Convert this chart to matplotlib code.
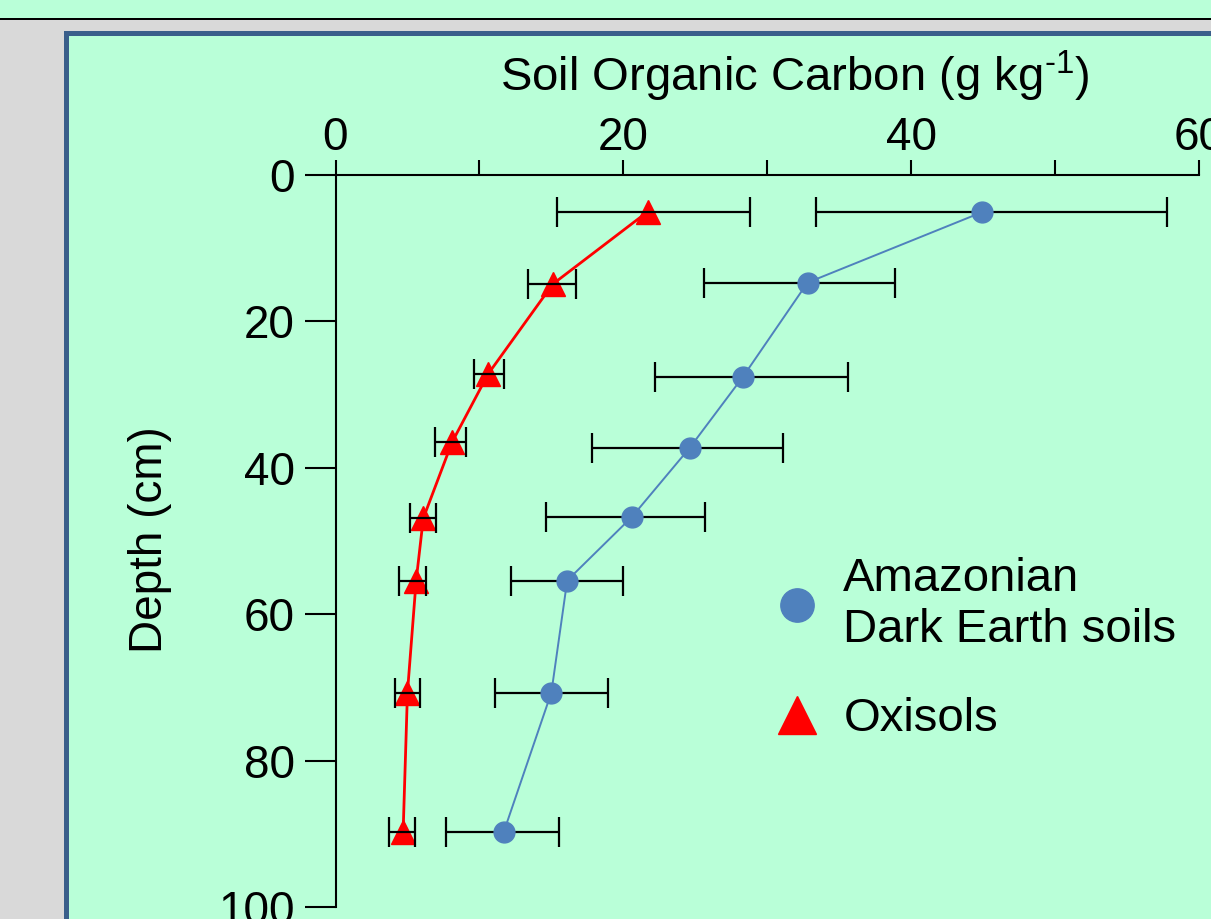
import matplotlib
matplotlib.use("Agg")
import numpy as np
import matplotlib.pyplot as plt
from matplotlib.patches import Rectangle
from matplotlib.lines import Line2D

plt.rcParams['font.family'] = ['Liberation Sans', 'DejaVu Sans']
plt.rcParams['mathtext.fontset'] = 'custom'
plt.rcParams['mathtext.rm'] = 'Liberation Sans'

# Amazonian Dark Earth soils: depth (cm), mean SOC and error-bar bounds (g/kg)
ade_depth = [5.1, 14.7, 27.6, 37.3, 46.7, 55.4, 70.7, 89.7]
ade_soc = [44.9, 32.8, 28.3, 24.6, 20.6, 16.1, 15.0, 11.7]
ade_lo = [33.4, 25.6, 22.2, 17.8, 14.6, 12.2, 11.1, 7.7]
ade_hi = [57.8, 38.9, 35.6, 31.1, 25.7, 20.0, 18.9, 15.5]

# Oxisols
oxi_depth = [5.0, 14.9, 27.2, 36.5, 46.9, 55.5, 70.7, 89.7]
oxi_soc = [21.7, 15.1, 10.6, 8.1, 6.1, 5.6, 5.0, 4.7]
oxi_lo = [15.4, 13.4, 9.6, 6.9, 5.2, 4.4, 4.1, 3.7]
oxi_hi = [28.8, 16.7, 11.7, 9.1, 7.0, 6.3, 5.9, 5.5]

x_ticks = [0, 20, 40, 60]
x_minor = [10, 30, 50]
y_ticks = [0, 20, 40, 60, 80, 100]

W, H = 1211, 919
green = '#B9FFD8'
blue = '#4F81BD'

fig = plt.figure(figsize=(W / 100, H / 100), dpi=100)
fig.patch.set_facecolor('#D9D9D9')

# slide background pieces
fig.patches.append(Rectangle((0, 1 - 18 / H), 1, 18 / H, transform=fig.transFigure,
                             facecolor=green, edgecolor='none', zorder=-10))
fig.patches.append(Rectangle((0, 1 - 20 / H), 1, 2 / H, transform=fig.transFigure,
                             facecolor='black', edgecolor='none', zorder=-10))
fig.patches.append(Rectangle((65.5 / W, -0.1), 2, (H - 33.5) / H + 0.1, transform=fig.transFigure,
                             facecolor=green, edgecolor='#3A5F8B', linewidth=3.6, zorder=-10))

ax = fig.add_axes([335.5 / W, 1 - 907 / H, (1199 - 335.5) / W, (907 - 175) / H])
ax.patch.set_alpha(0)

ade_soc = np.array(ade_soc)
oxi_soc = np.array(oxi_soc)
ade_err = [ade_soc - np.array(ade_lo), np.array(ade_hi) - ade_soc]
oxi_err = [oxi_soc - np.array(oxi_lo), np.array(oxi_hi) - oxi_soc]

ax.errorbar(ade_soc, ade_depth, xerr=ade_err, fmt='none', ecolor='black',
            elinewidth=1.6, capsize=11, capthick=1.6, zorder=2)
ax.plot(ade_soc, ade_depth, color=blue, lw=1.4, marker='o', ms=15, zorder=3)
ax.plot(oxi_soc, oxi_depth, color='red', lw=2.0, marker='^', ms=17, zorder=4)
ax.errorbar(oxi_soc, oxi_depth, xerr=oxi_err, fmt='none', ecolor='black',
            elinewidth=1.6, capsize=11, capthick=1.6, zorder=5)

ax.set_xlim(0, 60)
ax.set_ylim(100, 0)
ax.set_xticks(x_ticks)
ax.set_xticks(x_minor, minor=True)
ax.set_yticks(y_ticks)
ax.xaxis.tick_top()
ax.spines['right'].set_visible(False)
ax.spines['bottom'].set_visible(False)
ax.spines['left'].set_linewidth(1.5)
ax.spines['top'].set_linewidth(1.5)
ax.tick_params(axis='x', which='both', top=True, bottom=False, labeltop=True, labelbottom=False,
               length=10.8, width=1.5, labelsize=33, pad=0)
ax.tick_params(axis='y', length=22.3, width=1.5, labelsize=33, pad=7)

fig.text(500 / W, 1 - 91 / H, r"Soil Organic Carbon (g kg$^{\text{-1}}$)",
         ha='left', va='baseline', fontsize=34)
fig.text(150 / W, 1 - 540 / H, "Depth (cm)", rotation=90, ha='center', va='center', fontsize=33)

handles = [Line2D([], [], ls='none', marker='o', color=blue, ms=24),
           Line2D([], [], ls='none', marker='^', color='red', ms=27)]
labels = ["Amazonian\nDark Earth soils", "Oxisols"]
ax.legend(handles, labels, loc='upper left', bbox_to_anchor=(773.4 / W, 1 - 557 / H),
          bbox_transform=fig.transFigure, frameon=False, fontsize=34, handlelength=1.0,
          handletextpad=0.48, borderpad=0, borderaxespad=0, labelspacing=0.96)

fig.savefig("out.png", dpi=100, facecolor=fig.get_facecolor())
